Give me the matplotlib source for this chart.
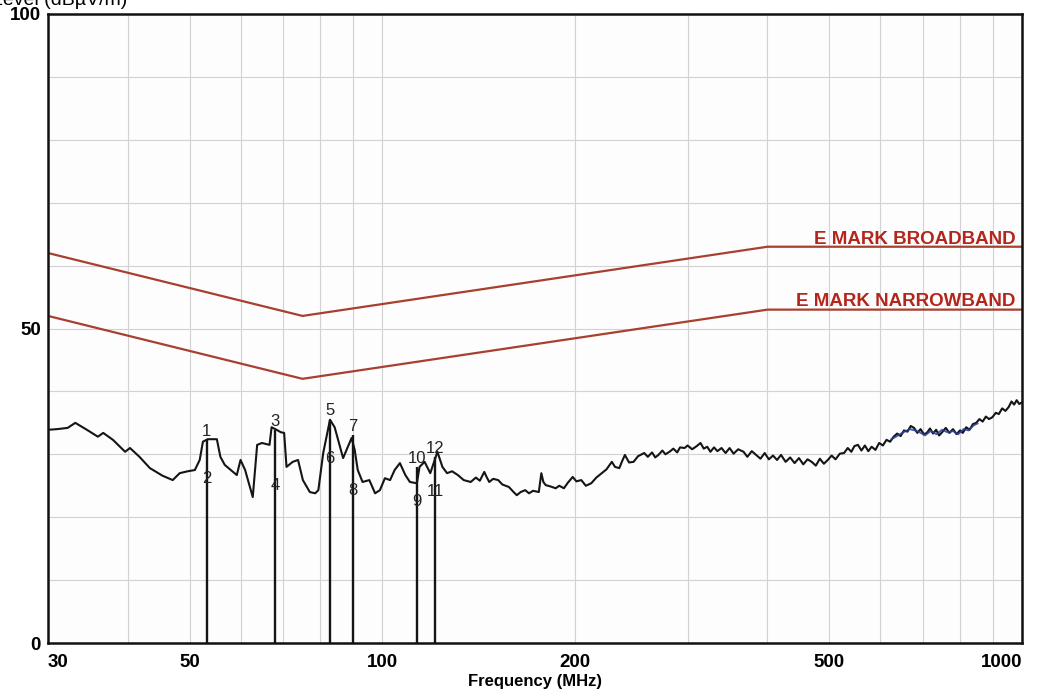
import matplotlib

matplotlib.use("Agg")
import matplotlib.pyplot as plt
from matplotlib.ticker import FixedLocator, NullFormatter

plt.rcParams["font.family"] = ["Liberation Sans", "DejaVu Sans"]

# limit lines (E-mark, 2004/104/EC style), values at the corner frequencies
LIMIT_MHZ = [30, 75, 400, 1000]
BROADBAND = [62, 52, 63, 63]
NARROWBAND = [52, 42, 53, 53]

TRACE_MHZ = [
    30.0, 31.0, 32.2, 33.1, 34.5, 35.9, 36.6, 37.9, 39.6, 40.3, 41.7, 43.3, 45.3, 47.0,
    48.2, 49.6, 50.9, 51.8, 52.4, 53.3, 55.1, 55.8, 56.7, 58.4, 59.2, 60.0, 61.0, 62.7,
    63.7, 64.8, 66.6, 67.1, 68.3, 69.4, 70.2, 70.8, 72.4, 73.8, 75.1, 77.0, 78.5, 79.4,
    80.8, 82.2, 82.8, 84.2, 86.8, 89.5, 90.5, 91.5, 93.1, 95.4, 97.4, 99.1, 100.9, 102.8,
    104.5, 106.5, 108.6, 110.4, 113.2, 114.3, 116.4, 118.8, 121.9, 124.1, 126.2, 128.5,
    131.2, 134.0, 137.4, 140.0, 142.0, 144.3, 145.5, 146.9, 149.0, 151.7, 154.0, 157.7,
    160.0, 162.2, 164.5, 167.2, 169.5, 172.0, 175.6, 177.2, 178.5, 180.0, 183.0, 186.6,
    189.0, 192.2, 195.0, 198.4, 201.0, 204.6, 208.0, 212.1, 216.0, 220.3, 224.0, 228.4,
    231.0, 234.6, 237.0, 239.4, 243.0, 247.0, 251.0, 256.6, 260.0, 264.0, 267.0, 270.1,
    274.0, 277.0, 281.1, 285.0, 289.0, 292.0, 296.8, 300.0, 305.0, 310.0, 314.3, 318.0,
    322.0, 325.7, 330.0, 334.0, 339.0, 344.0, 349.0, 354.0, 360.0, 367.0, 372.0, 378.0,
    384.0, 390.0, 396.0, 402.0, 408.0, 414.0, 420.0, 427.0, 434.0, 441.0, 448.0, 455.0,
    462.0, 469.0, 476.0, 483.0, 490.0, 497.0, 504.0, 511.0, 519.0, 527.0, 534.0, 541.0,
    547.0, 554.0, 561.0, 568.0, 575.0, 582.0, 590.0, 598.0, 606.0, 614.0, 622.0, 630.0,
    638.0, 646.0, 654.0, 662.0, 670.0, 678.0, 686.0, 694.0, 702.0, 710.0, 718.0, 726.0,
    734.0, 742.0, 750.0, 760.0, 770.0, 780.0, 790.0, 800.0, 808.0, 818.0, 828.0, 838.0,
    848.0, 858.0, 868.0, 878.0, 888.0, 899.0, 910.0, 920.0, 931.0, 942.0, 953.0, 963.0,
    972.0, 981.0, 990.0, 998.0,
]
TRACE_DBUV = [
    33.9, 34.0, 34.2, 35.0, 33.9, 32.8, 33.4, 32.3, 30.4, 31.0, 29.6, 27.8, 26.6, 25.9,
    27.0, 27.3, 27.5, 29.1, 32.0, 32.4, 32.4, 29.6, 28.3, 27.2, 26.7, 29.1, 27.5, 23.2,
    31.5, 31.8, 31.5, 34.3, 33.9, 33.5, 33.4, 28.0, 28.8, 29.1, 25.9, 24.0, 23.8, 24.3,
    30.2, 33.9, 35.5, 34.3, 29.4, 32.6, 30.7, 27.5, 25.6, 25.9, 23.8, 24.3, 26.2, 25.9,
    27.5, 28.6, 26.7, 25.6, 25.4, 28.0, 28.8, 27.0, 30.4, 28.0, 27.0, 27.3,
    26.7, 25.9, 25.6, 26.3, 25.8, 27.2, 26.4, 25.6, 26.1, 25.9, 25.2, 24.8,
    24.1, 23.5, 24.0, 24.3, 23.8, 24.2, 24.0, 27.0, 25.6, 25.1, 24.9, 24.6,
    25.0, 24.6, 25.5, 26.4, 25.7, 25.9, 25.0, 25.4, 26.3, 27.0, 27.6, 28.8,
    28.0, 27.8, 28.9, 29.9, 28.7, 28.8, 29.7, 30.2, 29.6, 30.3, 29.5, 29.9,
    30.6, 30.0, 30.4, 30.9, 30.3, 31.1, 31.0, 31.4, 30.8, 31.3, 31.8, 30.9,
    31.2, 30.4, 31.1, 30.5, 31.0, 30.2, 31.0, 30.1, 30.8, 30.4, 29.6, 30.5,
    29.9, 29.3, 30.2, 29.2, 29.8, 29.1, 29.9, 28.8, 29.5, 28.6, 29.4, 28.4,
    29.2, 28.8, 28.2, 29.3, 28.5, 29.1, 29.8, 29.2, 30.1, 30.2, 31.0, 30.4,
    31.3, 31.5, 30.6, 31.4, 30.5, 31.2, 30.7, 31.8, 31.4, 32.3, 32.0, 32.8,
    33.3, 32.9, 33.8, 33.6, 34.5, 34.2, 33.4, 34.0, 33.2, 33.4, 34.1, 33.3,
    33.9, 33.0, 33.5, 34.2, 33.4, 34.0, 33.2, 33.8, 33.4, 34.3, 33.9, 34.8,
    35.0, 35.6, 35.2, 36.0, 35.6, 35.9, 36.6, 36.4, 37.3, 36.9, 37.5, 38.4,
    37.9, 38.6, 38.0, 38.2,
]

# second (blue) trace that shows through at the top end
BLUE_MHZ = [625, 640, 655, 668, 680, 692, 705, 720, 735, 750, 765, 780, 795, 810, 825, 840, 852]
BLUE_DBUV = [32.4, 33.0, 33.6, 34.0, 33.8, 33.5, 33.0, 33.7, 33.2, 33.9, 33.5, 33.7, 33.2, 34.0, 33.8, 34.6, 34.9]

# markers: odd/even pairs at the same frequency
MARKER_MHZ = [53.1, 53.1, 67.9, 67.9, 82.7, 82.7, 89.9, 89.9, 113.4, 113.4, 120.8, 120.8]
MARKER_DBUV = [32.3, 24.8, 33.9, 23.7, 35.5, 28.0, 33.1, 22.9, 21.1, 28.0, 22.7, 29.6]
MARKER_IDS = ["1", "2", "3", "4", "5", "6", "7", "8", "9", "10", "11", "12"]

X_TICKS = [30, 50, 100, 200, 500, 1000]
X_MINOR = [40, 60, 70, 80, 90, 300, 400, 600, 700, 800, 900]
Y_TICKS = [0, 50, 100]
Y_MINOR = [10, 20, 30, 40, 60, 70, 80, 90]

LIMIT_RED = "#a8402f"
LABEL_RED = "#b3261c"

fig = plt.figure(figsize=(10.38, 6.96), dpi=100)
fig.patch.set_facecolor("white")
ax = fig.add_axes([48 / 1038, 1 - 643 / 696, 974 / 1038, 629 / 696])
ax.set_facecolor("#fdfdfd")
ax.set_xscale("log")
ax.set_xlim(30, 1000)
ax.set_ylim(0, 100)

ax.xaxis.set_major_locator(FixedLocator(X_TICKS))
ax.xaxis.set_minor_locator(FixedLocator(X_MINOR))
ax.xaxis.set_minor_formatter(NullFormatter())
ax.set_xticklabels([str(v) for v in X_TICKS])
ax.yaxis.set_major_locator(FixedLocator(Y_TICKS))
ax.yaxis.set_minor_locator(FixedLocator(Y_MINOR))
ax.set_yticklabels([str(v) for v in Y_TICKS])
ax.grid(True, which="both", color="#d2d2d2", linewidth=0.8)
ax.set_axisbelow(True)
ax.tick_params(which="both", length=0)
ax.tick_params(axis="x", pad=8, labelsize=13.5)
ax.tick_params(axis="y", pad=5, labelsize=13.5)
for lab in ax.get_xticklabels() + ax.get_yticklabels():
    lab.set_fontweight("bold")
xl = ax.get_xticklabels()
xl[0].set_horizontalalignment("left")
xl[-1].set_horizontalalignment("right")
for side in ax.spines.values():
    side.set_linewidth(1.8)
    side.set_color("#111111")

ax.plot(LIMIT_MHZ, BROADBAND, color=LIMIT_RED, linewidth=1.6)
ax.plot(LIMIT_MHZ, NARROWBAND, color=LIMIT_RED, linewidth=1.6)
ax.text(0.993, BROADBAND[-1] + 0.5, "E MARK BROADBAND", transform=ax.get_yaxis_transform(),
        ha="right", va="baseline", fontsize=13.5, fontweight="bold", color=LABEL_RED)
ax.text(0.993, NARROWBAND[-1] + 0.5, "E MARK NARROWBAND", transform=ax.get_yaxis_transform(),
        ha="right", va="baseline", fontsize=13.5, fontweight="bold", color=LABEL_RED)

ax.plot(TRACE_MHZ, TRACE_DBUV, color="#151515", linewidth=1.5)
ax.plot(BLUE_MHZ, BLUE_DBUV, color="#2a3f9a", linewidth=1.4, alpha=0.85)

# vertical marker lines run from 0 up to the higher reading of each pair
for i in range(0, len(MARKER_MHZ), 2):
    top = max(MARKER_DBUV[i], MARKER_DBUV[i + 1])
    ax.vlines(MARKER_MHZ[i], 0, top, color="#151515", linewidth=1.7)
for f, lv, name in zip(MARKER_MHZ, MARKER_DBUV, MARKER_IDS):
    ax.text(f, lv + 0.2, name, ha="center", va="bottom", fontsize=12, color="#222222")

ax.set_xlabel("Frequency (MHz)", fontsize=12, fontweight="bold", labelpad=2)
# the scan cuts the axis title off at the top edge
fig.text(-0.008, 1 - 5 / 696, "Level (dB\u00b5V/m)", fontsize=14, va="baseline", ha="left")

fig.savefig("out.png", dpi=100, facecolor="white")
